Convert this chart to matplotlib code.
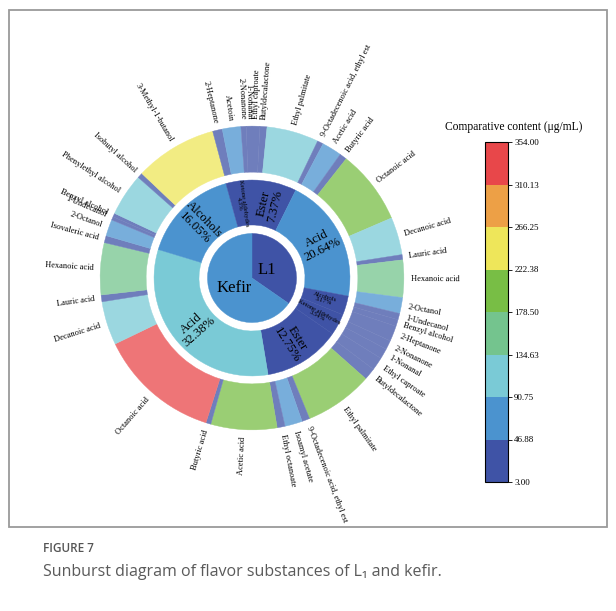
import numpy as np
import matplotlib
matplotlib.use("Agg")
import matplotlib.pyplot as plt
from matplotlib.colors import ListedColormap, BoundaryNorm, to_rgb
from matplotlib.cm import ScalarMappable
from matplotlib.patches import Rectangle

# inner ring: samples
groups = ["L1", "Kefir"]

# middle ring: substance classes (percent of total)
class_names = ["Ester", "Acid", "Alcohols", "Ketone aldehydes",
               "Ester", "Acid", "Alcohols", "Ketone aldehydes"]
class_pct = [7.37, 20.64, 3.17, 3.54, 12.75, 32.38, 16.05, 4.3]
class_group = [0, 0, 0, 0, 1, 1, 1, 1]

# outer ring: compounds, clockwise from 12 o'clock
compounds = [
    "Ethyl caproate", "Butyldecalactone", "Ethyl palmitate", "9-Octadecenoic acid, ethyl est",
    "Acetic acid", "Butyric acid", "Octanoic acid", "Decanoic acid", "Lauric acid", "Hexanoic acid",
    "2-Octanol", "1-Undecanol", "Benzyl alcohol",
    "2-Heptanone", "2-Nonanone", "1-Nonanal",
    "Ethyl caproate", "Butyldecalactone", "Ethyl palmitate", "9-Octadecenoic acid, ethyl est",
    "Isoamyl acetate", "Ethyl octanoate",
    "Acetic acid", "Butyric acid", "Octanoic acid", "Decanoic acid", "Lauric acid", "Hexanoic acid",
    "Isovaleric acid",
    "2-Octanol", "1-Undecanol", "Benzyl alcohol", "Phenylethyl alcohol", "Isobutyl alcohol",
    "3-Methyl-1-butanol",
    "2-Heptanone", "Acetoin", "2-Nonanone", "1-Nonanal",
]
# share of the ring each compound takes (degrees)
arc_share = [3.0, 2.7, 19.9, 2.3,
             7.6, 2.8, 28.4, 14.4, 2.0, 14.3,
             6.1, 2.4, 2.6,
             5.9, 3.5, 4.0,
             5.0, 4.6, 26.2, 3.0, 6.7, 3.0,
             25.3, 1.9, 46.6, 16.7, 2.6, 19.9, 2.7,
             6.3, 1.3, 1.4, 16.3, 2.0, 31.5,
             3.7, 7.1, 2.0, 2.2]
# comparative content (ug/mL), estimated from the colour bands
content = [20, 18, 128, 15,
           55, 20, 205, 104, 14, 150,
           52, 17, 18,
           40, 25, 28,
           36, 33, 188, 20, 50, 21,
           182, 14, 335, 120, 19, 143, 19,
           49, 9, 10, 117, 14, 226,
           26, 51, 14, 16]

bounds = [3.00, 46.88, 90.75, 134.63, 178.50, 222.38, 266.25, 310.13, 354.00]

# styles
band_colors = ["#3f53a6", "#4b93cf", "#7acad6", "#74c48e",
               "#78be45", "#eee65a", "#eda046", "#e8474a"]
cmap = ListedColormap(band_colors)
norm = BoundaryNorm(bounds, cmap.N)
serif = "Liberation Serif"

group_colors = [band_colors[0], band_colors[1]]
class_colors = [band_colors[i] for i in [0, 1, 0, 0, 0, 2, 1, 0]]


def soften(c, a=0.75):
    r = np.array(to_rgb(c))
    return tuple(r * a + (1 - a))


outer_colors = [soften(cmap(norm(v))) for v in content]

fig = plt.figure(figsize=(6.16, 6.11), dpi=100)
W, H = 616, 611

# frame around the figure image
fig.patches.append(Rectangle((9 / W, 1 - 527 / H), 598 / W, 517 / H, transform=fig.transFigure,
                             fill=False, edgecolor="#9a9a9a", linewidth=1.3))

ax = fig.add_axes([9 / W, 90 / H, 486 / W, 486 / H])

R_OUT, R_OUT_IN = 1.0, 0.697
R_MID, R_MID_IN = 0.645, 0.349
R_IN = 0.293

# inner pie
group_pct = [sum(p for p, g in zip(class_pct, class_group) if g == k) for k in range(len(groups))]
w_in, _ = ax.pie(group_pct, radius=R_IN, startangle=90, counterclock=False,
                 colors=group_colors, wedgeprops=dict(linewidth=0))
# middle ring
w_mid, _ = ax.pie(class_pct, radius=R_MID, startangle=90, counterclock=False,
                  colors=class_colors, wedgeprops=dict(width=R_MID - R_MID_IN, linewidth=0))
# outer ring
w_out, _ = ax.pie(arc_share, radius=R_OUT, startangle=90, counterclock=False,
                  colors=outer_colors, wedgeprops=dict(width=R_OUT - R_OUT_IN, linewidth=0))
for w in list(w_out) + list(w_mid) + list(w_in):
    w.set_edgecolor(w.get_facecolor())
    w.set_linewidth(0.3)

ax.set_xlim(-1.6, 1.6)
ax.set_ylim(-1.6, 1.6)
ax.set_aspect("equal")
ax.axis("off")


def mid_angle(w):
    a = (w.theta1 + w.theta2) / 2
    return (a + 180) % 360 - 180


def radial_text(theta, r, s, size, ha=None, **kw):
    t = np.deg2rad(theta)
    if -90 < theta <= 90:
        rot, side = theta, "left"
    else:
        rot, side = theta - 180, "right"
    ax.text(r * np.cos(t), r * np.sin(t), s, rotation=rot, rotation_mode="anchor",
            ha=ha or side, va="center", fontsize=size, family=serif, **kw)


# outer labels
for w, name in zip(w_out, compounds):
    radial_text(mid_angle(w), R_OUT + 0.045, name, 6.0)

# middle labels
for w, name, p in zip(w_mid, class_names, class_pct):
    big = p > 5
    txt = f"{name}\n{p:g}%"
    radial_text(mid_angle(w), (R_MID + R_MID_IN) / 2, txt, 9.2 if big else 4.8,
                ha="center", linespacing=1.0 if big else 0.9)

# inner labels
for w, name in zip(w_in, groups):
    t = np.deg2rad(mid_angle(w))
    r = 0.11 if name == "L1" else 0.135
    ax.text(r * np.cos(t), r * np.sin(t), name, ha="center", va="center",
            fontsize=12, family=serif)

# colour bar
cax = fig.add_axes([485 / W, 1 - 482 / H, 23 / W, 340 / H])
cb = fig.colorbar(ScalarMappable(norm=norm, cmap=cmap), cax=cax, ticks=bounds, spacing="uniform")
cb.ax.set_yticklabels([f"{b:.2f}" for b in bounds], fontsize=6.5, family=serif)
cb.ax.tick_params(length=3, width=0.6, pad=1.5)
cb.outline.set_linewidth(0.8)
fig.text(514 / W, 1 - 127 / H, "Comparative content (\u03bcg/mL)", ha="center", va="center",
         fontsize=8.3, family=serif)

# caption
fig.text(43 / W, 1 - 549 / H, "FIGURE 7", ha="left", va="center", fontsize=8.5,
         family=["Open Sans", "DejaVu Sans"], weight="semibold", color="#555555")
fig.text(43 / W, 1 - 572 / H, "Sunburst diagram of flavor substances of L\u2081 and kefir.",
         ha="left", va="center", fontsize=11.5, family=["Open Sans", "DejaVu Sans"], color="#5a5a5a")

fig.savefig("out.png", dpi=100)
